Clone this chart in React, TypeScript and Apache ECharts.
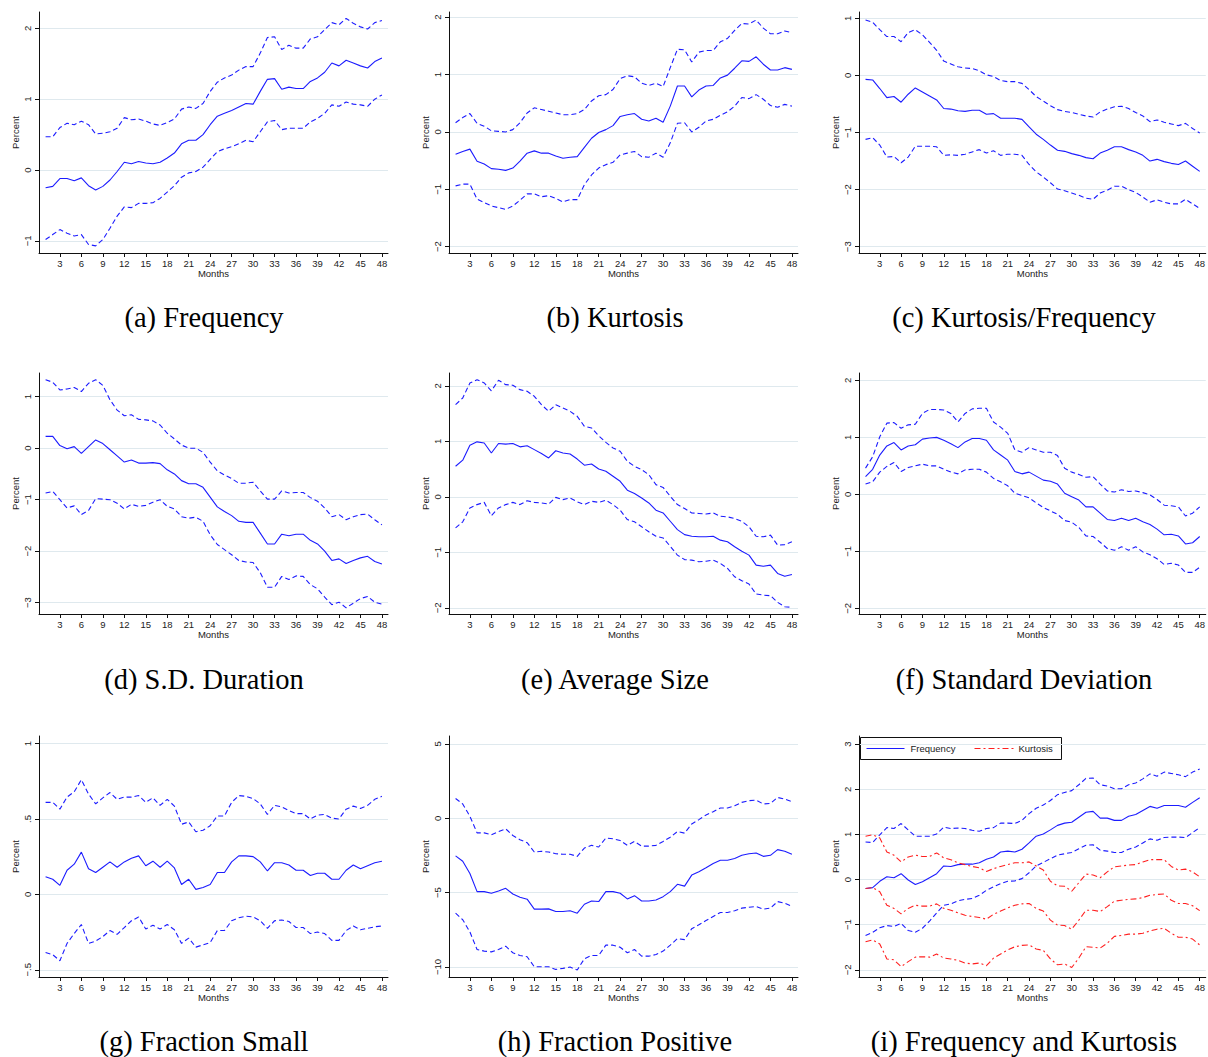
import React, { useEffect, useRef } from "react";
import * as echarts from "echarts";

const months = [1, 2, 3, 4, 5, 6, 7, 8, 9, 10, 11, 12, 13, 14, 15, 16, 17, 18, 19, 20, 21, 22, 23, 24, 25, 26, 27, 28, 29, 30, 31, 32, 33, 34, 35, 36, 37, 38, 39, 40, 41, 42, 43, 44, 45, 46, 47, 48];
const monthTicks = [3, 6, 9, 12, 15, 18, 21, 24, 27, 30, 33, 36, 39, 42, 45, 48];

// (a) Frequency
const aMid = [-0.25, -0.23, -0.12, -0.12, -0.15, -0.11, -0.22, -0.28, -0.23, -0.14, -0.02, 0.11, 0.09, 0.12, 0.10, 0.09, 0.11, 0.17, 0.24, 0.37, 0.42, 0.42, 0.50, 0.64, 0.76, 0.80, 0.84, 0.89, 0.94, 0.93, 1.11, 1.28, 1.29, 1.14, 1.17, 1.15, 1.15, 1.25, 1.30, 1.38, 1.51, 1.47, 1.55, 1.51, 1.47, 1.44, 1.53, 1.58];
const aUp = [0.47, 0.47, 0.60, 0.66, 0.64, 0.69, 0.64, 0.51, 0.52, 0.54, 0.59, 0.74, 0.71, 0.72, 0.69, 0.65, 0.63, 0.67, 0.72, 0.86, 0.89, 0.87, 0.94, 1.11, 1.24, 1.30, 1.34, 1.41, 1.46, 1.46, 1.65, 1.87, 1.88, 1.70, 1.76, 1.72, 1.72, 1.85, 1.88, 1.98, 2.08, 2.05, 2.14, 2.07, 2.02, 1.99, 2.08, 2.11];
const aLo = [-0.98, -0.91, -0.84, -0.89, -0.93, -0.91, -1.05, -1.07, -0.98, -0.82, -0.65, -0.52, -0.53, -0.47, -0.47, -0.46, -0.40, -0.31, -0.22, -0.10, -0.04, -0.02, 0.04, 0.15, 0.26, 0.30, 0.33, 0.37, 0.42, 0.40, 0.54, 0.68, 0.70, 0.57, 0.59, 0.59, 0.59, 0.68, 0.73, 0.80, 0.92, 0.90, 0.96, 0.93, 0.92, 0.90, 1.00, 1.06];

// (b) Kurtosis
const bMid = [-0.39, -0.34, -0.30, -0.51, -0.56, -0.64, -0.65, -0.67, -0.63, -0.51, -0.37, -0.33, -0.37, -0.37, -0.42, -0.46, -0.44, -0.43, -0.27, -0.11, -0.01, 0.04, 0.11, 0.27, 0.30, 0.32, 0.22, 0.19, 0.24, 0.17, 0.45, 0.80, 0.80, 0.61, 0.73, 0.80, 0.81, 0.94, 0.99, 1.11, 1.24, 1.23, 1.31, 1.18, 1.08, 1.08, 1.12, 1.09];
const bUp = [0.16, 0.25, 0.32, 0.15, 0.10, 0.02, 0.01, 0.00, 0.04, 0.16, 0.33, 0.42, 0.39, 0.36, 0.33, 0.30, 0.30, 0.32, 0.39, 0.54, 0.63, 0.65, 0.74, 0.93, 0.98, 0.96, 0.85, 0.81, 0.85, 0.79, 1.12, 1.44, 1.43, 1.22, 1.39, 1.42, 1.42, 1.57, 1.63, 1.77, 1.89, 1.88, 1.95, 1.81, 1.71, 1.71, 1.76, 1.73];
const bLo = [-0.94, -0.91, -0.91, -1.17, -1.23, -1.29, -1.32, -1.35, -1.29, -1.19, -1.08, -1.08, -1.13, -1.11, -1.16, -1.22, -1.18, -1.18, -0.92, -0.75, -0.63, -0.57, -0.53, -0.40, -0.37, -0.34, -0.43, -0.44, -0.37, -0.44, -0.19, 0.15, 0.16, 0.00, 0.08, 0.19, 0.22, 0.29, 0.35, 0.45, 0.60, 0.58, 0.65, 0.57, 0.46, 0.43, 0.48, 0.45];

// (c) Kurtosis/Frequency
const cMid = [-0.07, -0.08, -0.23, -0.39, -0.37, -0.47, -0.33, -0.22, -0.29, -0.36, -0.43, -0.58, -0.59, -0.62, -0.63, -0.61, -0.61, -0.68, -0.67, -0.75, -0.75, -0.75, -0.77, -0.90, -1.03, -1.12, -1.22, -1.31, -1.33, -1.37, -1.40, -1.44, -1.46, -1.36, -1.31, -1.25, -1.25, -1.30, -1.34, -1.40, -1.50, -1.47, -1.51, -1.54, -1.56, -1.50, -1.59, -1.68];
const cUp = [0.97, 0.93, 0.80, 0.68, 0.68, 0.59, 0.75, 0.80, 0.71, 0.58, 0.44, 0.25, 0.20, 0.15, 0.13, 0.12, 0.08, 0.01, -0.02, -0.09, -0.11, -0.11, -0.14, -0.25, -0.37, -0.45, -0.53, -0.60, -0.63, -0.65, -0.68, -0.71, -0.73, -0.64, -0.59, -0.55, -0.54, -0.58, -0.65, -0.71, -0.81, -0.78, -0.82, -0.85, -0.88, -0.84, -0.93, -1.01];
const cLo = [-1.12, -1.09, -1.22, -1.43, -1.42, -1.53, -1.43, -1.24, -1.24, -1.24, -1.25, -1.40, -1.39, -1.40, -1.38, -1.34, -1.30, -1.36, -1.32, -1.40, -1.38, -1.38, -1.40, -1.56, -1.69, -1.78, -1.88, -1.99, -2.02, -2.06, -2.10, -2.15, -2.17, -2.06, -2.01, -1.94, -1.94, -2.00, -2.05, -2.13, -2.22, -2.18, -2.22, -2.25, -2.25, -2.17, -2.25, -2.33];

// (d) S.D. Duration
const dMid = [0.23, 0.23, 0.05, -0.01, 0.03, -0.10, 0.03, 0.16, 0.09, -0.03, -0.15, -0.27, -0.23, -0.29, -0.29, -0.28, -0.30, -0.42, -0.50, -0.63, -0.69, -0.69, -0.76, -0.95, -1.14, -1.23, -1.31, -1.42, -1.44, -1.44, -1.65, -1.86, -1.86, -1.67, -1.70, -1.67, -1.67, -1.79, -1.86, -2.00, -2.18, -2.15, -2.24, -2.18, -2.13, -2.10, -2.20, -2.25];
const dUp = [1.33, 1.28, 1.13, 1.15, 1.18, 1.10, 1.26, 1.33, 1.22, 0.94, 0.74, 0.63, 0.65, 0.56, 0.55, 0.53, 0.45, 0.29, 0.18, 0.06, 0.00, 0.00, -0.08, -0.27, -0.44, -0.52, -0.59, -0.68, -0.68, -0.66, -0.83, -0.99, -0.99, -0.83, -0.87, -0.86, -0.86, -0.96, -1.03, -1.16, -1.33, -1.29, -1.39, -1.33, -1.29, -1.28, -1.39, -1.49];
const dLo = [-0.87, -0.84, -1.00, -1.16, -1.12, -1.29, -1.21, -0.98, -0.99, -1.00, -1.07, -1.18, -1.09, -1.13, -1.11, -1.05, -1.00, -1.13, -1.18, -1.33, -1.36, -1.34, -1.42, -1.68, -1.87, -1.97, -2.07, -2.18, -2.21, -2.22, -2.42, -2.70, -2.70, -2.49, -2.55, -2.48, -2.49, -2.65, -2.73, -2.89, -3.04, -2.99, -3.10, -3.01, -2.92, -2.88, -2.99, -3.03];

// (e) Average Size
const eMid = [0.55, 0.66, 0.93, 0.99, 0.97, 0.79, 0.96, 0.95, 0.96, 0.90, 0.92, 0.85, 0.78, 0.70, 0.83, 0.79, 0.77, 0.68, 0.57, 0.59, 0.50, 0.46, 0.37, 0.28, 0.12, 0.06, -0.02, -0.11, -0.24, -0.29, -0.44, -0.59, -0.68, -0.71, -0.72, -0.72, -0.71, -0.78, -0.81, -0.90, -0.98, -1.05, -1.23, -1.25, -1.23, -1.38, -1.43, -1.40];
const eUp = [1.66, 1.78, 2.05, 2.11, 2.05, 1.91, 2.10, 2.02, 2.01, 1.93, 1.90, 1.81, 1.66, 1.54, 1.66, 1.60, 1.54, 1.45, 1.27, 1.24, 1.10, 0.98, 0.88, 0.82, 0.64, 0.55, 0.49, 0.40, 0.22, 0.17, 0.01, -0.14, -0.21, -0.29, -0.30, -0.31, -0.29, -0.35, -0.36, -0.39, -0.44, -0.54, -0.71, -0.72, -0.69, -0.87, -0.86, -0.81];
const eLo = [-0.56, -0.45, -0.20, -0.14, -0.10, -0.34, -0.20, -0.14, -0.10, -0.14, -0.07, -0.10, -0.11, -0.13, -0.01, -0.05, -0.02, -0.09, -0.14, -0.08, -0.10, -0.06, -0.14, -0.24, -0.41, -0.45, -0.54, -0.63, -0.71, -0.74, -0.89, -1.05, -1.13, -1.14, -1.17, -1.16, -1.14, -1.20, -1.29, -1.44, -1.51, -1.57, -1.75, -1.77, -1.78, -1.90, -1.98, -1.99];

// (f) Standard Deviation
const fMid = [0.31, 0.44, 0.69, 0.85, 0.91, 0.78, 0.85, 0.87, 0.97, 0.99, 1.00, 0.95, 0.89, 0.82, 0.92, 0.98, 0.98, 0.95, 0.78, 0.69, 0.60, 0.40, 0.36, 0.39, 0.32, 0.25, 0.23, 0.18, 0.02, -0.04, -0.10, -0.22, -0.22, -0.33, -0.44, -0.46, -0.42, -0.46, -0.42, -0.48, -0.53, -0.61, -0.71, -0.70, -0.73, -0.87, -0.85, -0.74];
const fUp = [0.46, 0.66, 1.01, 1.25, 1.26, 1.16, 1.22, 1.23, 1.42, 1.49, 1.49, 1.48, 1.42, 1.27, 1.42, 1.50, 1.51, 1.51, 1.27, 1.18, 1.07, 0.78, 0.74, 0.82, 0.78, 0.74, 0.74, 0.68, 0.46, 0.39, 0.35, 0.30, 0.31, 0.18, 0.06, 0.04, 0.08, 0.05, 0.06, 0.03, -0.01, -0.09, -0.19, -0.20, -0.22, -0.38, -0.33, -0.22];
const fLo = [0.18, 0.22, 0.39, 0.49, 0.56, 0.40, 0.47, 0.50, 0.53, 0.50, 0.50, 0.44, 0.39, 0.36, 0.43, 0.44, 0.44, 0.39, 0.28, 0.22, 0.15, 0.02, -0.02, -0.06, -0.15, -0.23, -0.29, -0.35, -0.46, -0.49, -0.58, -0.73, -0.74, -0.84, -0.95, -0.98, -0.92, -0.98, -0.92, -1.01, -1.06, -1.13, -1.23, -1.21, -1.24, -1.37, -1.37, -1.28];

// (g) Fraction Small
const gMid = [0.117, 0.10, 0.06, 0.16, 0.20, 0.28, 0.17, 0.145, 0.18, 0.215, 0.18, 0.215, 0.24, 0.255, 0.19, 0.22, 0.18, 0.22, 0.175, 0.065, 0.10, 0.033, 0.045, 0.065, 0.145, 0.145, 0.215, 0.255, 0.255, 0.25, 0.215, 0.155, 0.21, 0.21, 0.195, 0.16, 0.16, 0.125, 0.14, 0.14, 0.10, 0.10, 0.16, 0.195, 0.17, 0.19, 0.21, 0.22];
const gUp = [0.61, 0.61, 0.565, 0.645, 0.68, 0.76, 0.665, 0.60, 0.64, 0.675, 0.63, 0.645, 0.645, 0.655, 0.61, 0.64, 0.59, 0.63, 0.585, 0.465, 0.48, 0.415, 0.425, 0.455, 0.52, 0.52, 0.61, 0.655, 0.65, 0.635, 0.60, 0.53, 0.59, 0.58, 0.555, 0.535, 0.535, 0.50, 0.525, 0.53, 0.505, 0.50, 0.565, 0.585, 0.57, 0.59, 0.63, 0.65];
const gLo = [-0.385, -0.40, -0.44, -0.325, -0.26, -0.20, -0.325, -0.31, -0.28, -0.24, -0.265, -0.22, -0.175, -0.15, -0.23, -0.205, -0.23, -0.20, -0.235, -0.325, -0.29, -0.35, -0.335, -0.32, -0.24, -0.24, -0.175, -0.155, -0.145, -0.15, -0.175, -0.225, -0.175, -0.17, -0.18, -0.22, -0.22, -0.26, -0.25, -0.26, -0.305, -0.305, -0.24, -0.21, -0.235, -0.225, -0.215, -0.21];

// (h) Fraction Positive
const hMid = [-2.53, -2.89, -3.71, -4.93, -4.93, -5.04, -4.89, -4.71, -5.09, -5.31, -5.44, -6.11, -6.11, -6.09, -6.27, -6.27, -6.22, -6.38, -5.78, -5.56, -5.60, -4.93, -4.93, -5.04, -5.42, -5.20, -5.56, -5.56, -5.49, -5.27, -4.93, -4.44, -4.56, -3.82, -3.60, -3.33, -3.04, -2.82, -2.82, -2.71, -2.49, -2.38, -2.33, -2.56, -2.49, -2.11, -2.22, -2.42];
const hUp = [1.33, 0.96, 0.13, -0.98, -0.98, -1.11, -0.89, -0.71, -1.16, -1.44, -1.64, -2.27, -2.22, -2.27, -2.38, -2.42, -2.42, -2.56, -2.00, -1.82, -1.93, -1.33, -1.38, -1.49, -1.82, -1.56, -1.87, -1.87, -1.82, -1.56, -1.27, -0.89, -1.00, -0.38, -0.09, 0.22, 0.44, 0.69, 0.69, 0.84, 1.07, 1.18, 1.22, 0.96, 1.00, 1.40, 1.29, 1.11];
const hLo = [-6.38, -6.82, -7.64, -8.82, -8.93, -8.98, -8.82, -8.60, -9.04, -9.22, -9.31, -9.98, -9.98, -9.98, -10.16, -10.09, -10.00, -10.20, -9.44, -9.22, -9.22, -8.53, -8.53, -8.67, -9.04, -8.82, -9.27, -9.27, -9.16, -8.93, -8.53, -8.09, -8.16, -7.42, -7.16, -6.87, -6.60, -6.33, -6.33, -6.22, -6.04, -5.98, -5.93, -6.11, -6.04, -5.60, -5.71, -5.93];

// (i) Frequency and Kurtosis
const iFreqMid = [-0.20, -0.18, -0.04, 0.06, 0.04, 0.13, -0.01, -0.11, -0.05, 0.04, 0.13, 0.30, 0.29, 0.33, 0.34, 0.34, 0.37, 0.45, 0.50, 0.61, 0.63, 0.61, 0.67, 0.81, 0.96, 1.01, 1.10, 1.20, 1.25, 1.27, 1.38, 1.49, 1.51, 1.36, 1.36, 1.31, 1.31, 1.40, 1.44, 1.53, 1.62, 1.58, 1.64, 1.64, 1.64, 1.60, 1.71, 1.81];
const iFreqUp = [0.83, 0.82, 0.99, 1.15, 1.13, 1.24, 1.10, 0.96, 0.96, 0.96, 1.01, 1.16, 1.13, 1.14, 1.13, 1.09, 1.07, 1.13, 1.15, 1.25, 1.25, 1.24, 1.31, 1.46, 1.58, 1.65, 1.75, 1.88, 1.93, 1.97, 2.10, 2.24, 2.25, 2.10, 2.07, 2.01, 2.01, 2.10, 2.14, 2.23, 2.34, 2.29, 2.38, 2.35, 2.32, 2.28, 2.38, 2.45];
const iFreqLo = [-1.24, -1.17, -1.07, -1.02, -1.04, -0.97, -1.13, -1.17, -1.08, -0.92, -0.74, -0.57, -0.54, -0.47, -0.44, -0.42, -0.35, -0.24, -0.16, -0.09, -0.04, -0.03, 0.02, 0.15, 0.30, 0.38, 0.46, 0.54, 0.57, 0.60, 0.68, 0.76, 0.77, 0.65, 0.63, 0.60, 0.60, 0.67, 0.72, 0.81, 0.90, 0.87, 0.93, 0.94, 0.94, 0.93, 1.04, 1.15];
const iKurtMid = [-0.20, -0.18, -0.27, -0.57, -0.64, -0.76, -0.64, -0.57, -0.59, -0.59, -0.54, -0.64, -0.68, -0.74, -0.79, -0.82, -0.84, -0.88, -0.77, -0.70, -0.63, -0.57, -0.54, -0.53, -0.64, -0.70, -0.90, -1.01, -1.02, -1.10, -0.90, -0.68, -0.68, -0.71, -0.60, -0.48, -0.46, -0.44, -0.43, -0.40, -0.35, -0.33, -0.32, -0.46, -0.53, -0.53, -0.58, -0.69];
const iKurtUp = [0.96, 0.99, 0.92, 0.61, 0.54, 0.39, 0.50, 0.54, 0.51, 0.51, 0.59, 0.48, 0.44, 0.37, 0.33, 0.29, 0.26, 0.18, 0.24, 0.29, 0.33, 0.37, 0.37, 0.39, 0.30, 0.21, -0.04, -0.14, -0.15, -0.26, -0.07, 0.12, 0.10, 0.04, 0.17, 0.28, 0.30, 0.32, 0.33, 0.39, 0.44, 0.44, 0.44, 0.29, 0.21, 0.23, 0.17, 0.06];
const iKurtLo = [-1.38, -1.34, -1.43, -1.76, -1.78, -1.93, -1.82, -1.72, -1.71, -1.72, -1.65, -1.74, -1.76, -1.79, -1.85, -1.87, -1.85, -1.91, -1.74, -1.65, -1.56, -1.49, -1.46, -1.45, -1.54, -1.57, -1.76, -1.89, -1.87, -1.95, -1.74, -1.49, -1.50, -1.52, -1.41, -1.26, -1.24, -1.21, -1.21, -1.19, -1.14, -1.10, -1.08, -1.19, -1.28, -1.28, -1.32, -1.45];

const captions = ["(a) Frequency", "(b) Kurtosis", "(c) Kurtosis/Frequency", "(d) S.D. Duration", "(e) Average Size", "(f) Standard Deviation", "(g) Fraction Small", "(h) Fraction Positive", "(i) Frequency and Kurtosis"];
const yTicks = [[-1, 0, 1, 2], [-2, -1, 0, 1, 2], [-3, -2, -1, 0, 1], [-3, -2, -1, 0, 1], [-2, -1, 0, 1, 2], [-2, -1, 0, 1, 2], [-0.5, 0, 0.5, 1], [-10, -5, 0, 5], [-2, -1, 0, 1, 2, 3]];
const yRanges = [[-1.17, 2.23], [-2.11, 2.09], [-3.11, 1.11], [-3.22, 1.46], [-2.11, 2.23], [-2.1, 2.13], [-0.548, 1.05], [-10.67, 5.53], [-2.16, 3.18]];
const legendNames = ["Frequency", "Kurtosis"];

const BLUE = "#1c1cff";
const RED = "#ff2020";
const DASH = [5, 3];
const DASHDOT = [6, 3, 2, 3];

const panelSeries = [
  [[aMid, BLUE, "solid"], [aUp, BLUE, DASH], [aLo, BLUE, DASH]],
  [[bMid, BLUE, "solid"], [bUp, BLUE, DASH], [bLo, BLUE, DASH]],
  [[cMid, BLUE, "solid"], [cUp, BLUE, DASH], [cLo, BLUE, DASH]],
  [[dMid, BLUE, "solid"], [dUp, BLUE, DASH], [dLo, BLUE, DASH]],
  [[eMid, BLUE, "solid"], [eUp, BLUE, DASH], [eLo, BLUE, DASH]],
  [[fMid, BLUE, "solid"], [fUp, BLUE, DASH], [fLo, BLUE, DASH]],
  [[gMid, BLUE, "solid"], [gUp, BLUE, DASH], [gLo, BLUE, DASH]],
  [[hMid, BLUE, "solid"], [hUp, BLUE, DASH], [hLo, BLUE, DASH]],
  [[iFreqMid, BLUE, "solid"], [iFreqUp, BLUE, DASH], [iFreqLo, BLUE, DASH], [iKurtMid, RED, DASHDOT], [iKurtUp, RED, DASHDOT], [iKurtLo, RED, DASHDOT]],
] as any[];

const COL_LEFT = [39, 449, 859];
const ROW_TOP = [12, 373, 736];
const GRID_W = 349;
const GRID_H = 241;
const CAP_X = [204, 615, 1024];
const CAP_Y = [317, 679, 1041];

const SANS = "'Liberation Sans', Arial, sans-serif";
const SERIF = "'Liberation Serif', 'Times New Roman', serif";

function fmtY(v: number) {
  const s = String(Math.abs(v)).replace(/^0\./, ".");
  return v < 0 ? "\u2212" + s : s;
}

function buildOption() {
  const grid: any[] = [];
  const xAxis: any[] = [];
  const yAxis: any[] = [];
  const series: any[] = [];
  const graphic: any[] = [];
  for (let p = 0; p < 9; p++) {
    const col = p % 3;
    const row = Math.floor(p / 3);
    grid.push({ left: COL_LEFT[col], top: ROW_TOP[row], width: GRID_W, height: GRID_H, containLabel: false });
    xAxis.push({
      type: "value",
      gridIndex: p,
      min: 0.08,
      max: 48.85,
      name: "Months",
      nameLocation: "middle",
      nameGap: 15,
      nameTextStyle: { fontSize: 9.5, color: "#222", fontFamily: SANS },
      axisLine: { show: true, onZero: false, lineStyle: { color: "#111", width: 1 } },
      axisTick: { show: true, customValues: monthTicks, length: 4, lineStyle: { color: "#111" } },
      axisLabel: { customValues: monthTicks, fontSize: 9.5, color: "#222", margin: 5, fontFamily: SANS },
      splitLine: { show: false },
    });
    yAxis.push({
      type: "value",
      gridIndex: p,
      min: yRanges[p][0],
      max: yRanges[p][1],
      name: "Percent",
      nameLocation: "middle",
      nameRotate: 90,
      nameGap: 19,
      nameTextStyle: { fontSize: 9.5, color: "#222", fontFamily: SANS },
      axisLine: { show: true, onZero: false, lineStyle: { color: "#111", width: 1 } },
      axisTick: { show: true, customValues: yTicks[p], length: 4, lineStyle: { color: "#111" } },
      axisLabel: { customValues: yTicks[p], rotate: 90, fontSize: 9.5, color: "#222", margin: 7, fontFamily: SANS, formatter: fmtY },
      splitLine: { show: true, lineStyle: { color: "#dfe9ee", width: 1 } },
    });
    for (const [arr, color, dash] of panelSeries[p]) {
      series.push({
        type: "line",
        xAxisIndex: p,
        yAxisIndex: p,
        data: months.map((m, k) => [m, arr[k]]),
        showSymbol: false,
        symbol: "none",
        silent: true,
        lineStyle: { color, width: 1.1, type: dash },
      });
    }
    graphic.push({
      type: "text",
      x: CAP_X[col],
      y: CAP_Y[row],
      silent: true,
      style: { text: captions[p], fontSize: 28.5, fontFamily: SERIF, fill: "#000", align: "center", verticalAlign: "middle" },
    });
  }
  // legend of panel (i)
  graphic.push({
    type: "group",
    left: 860,
    top: 737,
    silent: true,
    children: [
      { type: "rect", shape: { x: 0, y: 0, width: 201, height: 22 }, style: { fill: "#fff", stroke: "#111", lineWidth: 1 } },
      { type: "line", shape: { x1: 6, y1: 11, x2: 44, y2: 11 }, style: { stroke: BLUE, lineWidth: 1.1 } },
      { type: "text", x: 50, y: 11, style: { text: legendNames[0], fontSize: 9.5, fontFamily: SANS, fill: "#222", verticalAlign: "middle" } },
      { type: "line", shape: { x1: 114, y1: 11, x2: 153, y2: 11 }, style: { stroke: RED, lineWidth: 1.1, lineDash: DASHDOT } },
      { type: "text", x: 158, y: 11, style: { text: legendNames[1], fontSize: 9.5, fontFamily: SANS, fill: "#222", verticalAlign: "middle" } },
    ],
  });
  return { animation: false, backgroundColor: "#fff", grid, xAxis, yAxis, series, graphic };
}

export default function App() {
  const ref = useRef<HTMLDivElement>(null);
  useEffect(() => {
    document.body.style.margin = "0";
    const chart = echarts.init(ref.current!, null, { renderer: "svg" });
    chart.setOption(buildOption());
    return () => chart.dispose();
  }, []);
  return <div ref={ref} style={{ width: 1208, height: 1057 }} />;
}
